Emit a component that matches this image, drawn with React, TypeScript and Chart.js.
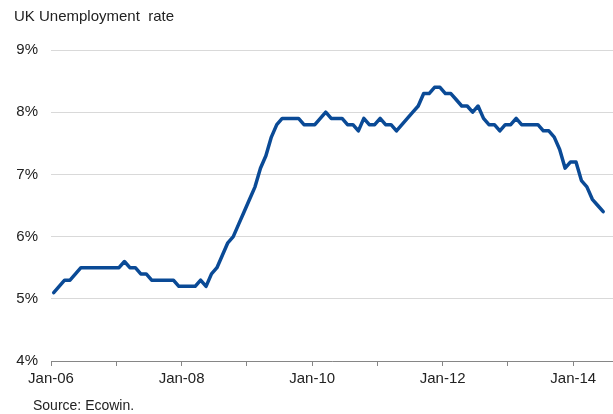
import { useEffect, useRef } from 'react';
import { Chart, registerables } from 'chart.js';

Chart.register(...registerables);

// Monthly UK unemployment rate (%), Jan 2006 .. Jun 2014
const unemploymentRate = [
  5.1, 5.2, 5.3, 5.3, 5.4, 5.5, 5.5, 5.5, 5.5, 5.5, 5.5, 5.5, // 2006
  5.5, 5.6, 5.5, 5.5, 5.4, 5.4, 5.3, 5.3, 5.3, 5.3, 5.3, 5.2, // 2007
  5.2, 5.2, 5.2, 5.3, 5.2, 5.4, 5.5, 5.7, 5.9, 6.0, 6.2, 6.4, // 2008
  6.6, 6.8, 7.1, 7.3, 7.6, 7.8, 7.9, 7.9, 7.9, 7.9, 7.8, 7.8, // 2009
  7.8, 7.9, 8.0, 7.9, 7.9, 7.9, 7.8, 7.8, 7.7, 7.9, 7.8, 7.8, // 2010
  7.9, 7.8, 7.8, 7.7, 7.8, 7.9, 8.0, 8.1, 8.3, 8.3, 8.4, 8.4, // 2011
  8.3, 8.3, 8.2, 8.1, 8.1, 8.0, 8.1, 7.9, 7.8, 7.8, 7.7, 7.8, // 2012
  7.8, 7.9, 7.8, 7.8, 7.8, 7.8, 7.7, 7.7, 7.6, 7.4, 7.1, 7.2, // 2013
  7.2, 6.9, 6.8, 6.6, 6.5, 6.4, // 2014
];

const xTickMonths = [0, 12, 24, 36, 48, 60, 72, 84, 96];
const xTickLabels = ['Jan-06', '', 'Jan-08', '', 'Jan-10', '', 'Jan-12', '', 'Jan-14'];
const yTickValues = [4, 5, 6, 7, 8, 9];

const FONT = '"Liberation Sans", Arial, sans-serif';
const TEXT = '#222222';
const LINE = '#0a4a96';

export default function App() {
  const ref = useRef<HTMLCanvasElement>(null);

  useEffect(() => {
    document.body.style.margin = '0';
    const chart = new Chart(ref.current as HTMLCanvasElement, {
      type: 'line',
      data: {
        datasets: [
          {
            data: unemploymentRate.map((v, i) => ({ x: i + 0.5, y: v })),
            borderColor: LINE,
            borderWidth: 3.5,
            pointRadius: 0,
            tension: 0,
            borderJoinStyle: 'round',
            borderCapStyle: 'round',
          },
        ],
      },
      options: {
        responsive: false,
        animation: false,
        devicePixelRatio: 1,
        layout: { padding: { left: 14, right: 0, top: 0, bottom: 22 } },
        plugins: {
          legend: { display: false },
          tooltip: { enabled: false },
          title: {
            display: true,
            text: 'UK Unemployment  rate',
            align: 'start',
            color: TEXT,
            font: { family: FONT, size: 15, weight: 'normal' },
            padding: { top: 8, bottom: 24 },
          },
        },
        scales: {
          x: {
            type: 'linear',
            min: 0,
            max: 103.3,
            afterBuildTicks: (s: any) => {
              s.ticks = xTickMonths.map((v) => ({ value: v }));
            },
            ticks: {
              autoSkip: false,
              maxRotation: 0,
              padding: 4,
              color: TEXT,
              font: { family: FONT, size: 15 },
              callback: (_v: any, idx: number) => xTickLabels[idx],
            },
            grid: { drawOnChartArea: false, drawTicks: true, tickLength: 5, color: '#868686' },
            border: { display: true, color: '#868686', width: 1 },
          },
          y: {
            min: 4,
            max: 9,
            afterBuildTicks: (s: any) => {
              s.ticks = yTickValues.map((v) => ({ value: v }));
            },
            afterFit: (s: any) => {
              s.width = 37;
            },
            ticks: {
              padding: 13,
              color: TEXT,
              font: { family: FONT, size: 15 },
              callback: (v: any) => v + '%',
            },
            grid: { color: '#d9d9d9', drawTicks: false },
            border: { display: false },
          },
        },
      },
    });
    return () => chart.destroy();
  }, []);

  return (
    <div style={{ position: 'relative', width: 613, height: 414 }}>
      <canvas ref={ref} width={613} height={414} style={{ display: 'block' }} />
      <div
        style={{
          position: 'absolute',
          left: 33,
          top: 397,
          fontFamily: FONT,
          fontSize: 14,
          color: TEXT,
          whiteSpace: 'nowrap',
        }}
      >
        Source: Ecowin.
      </div>
    </div>
  );
}
